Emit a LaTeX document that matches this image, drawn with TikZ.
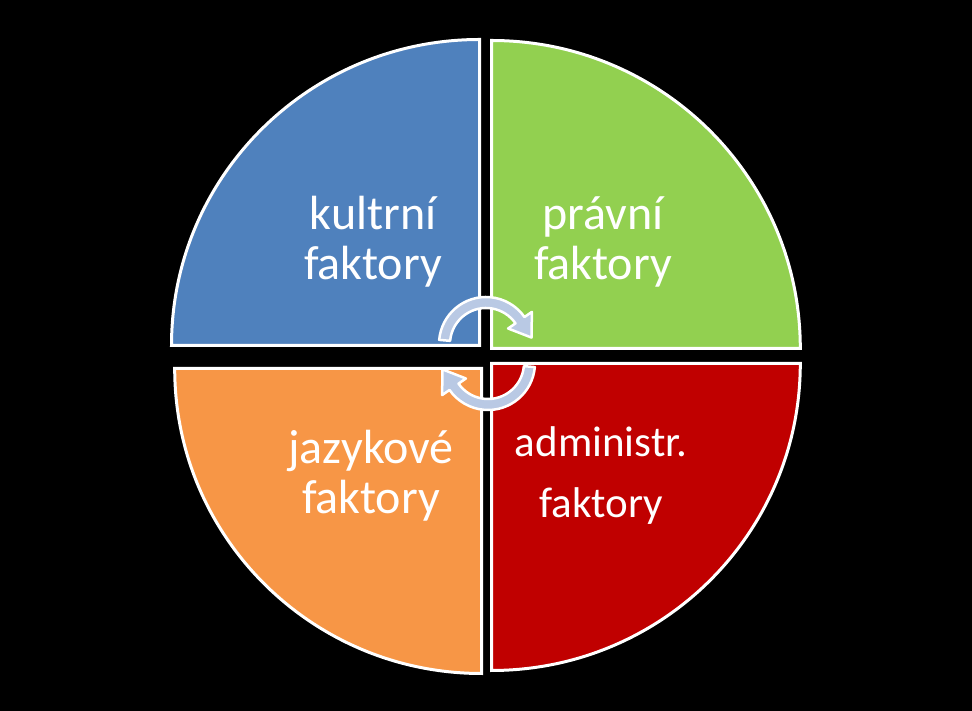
\documentclass[tikz,border=0pt]{standalone}
\usepackage{fontspec}
\setmainfont{Carlito}
\definecolor{qblue}{RGB}{79,129,189}
\definecolor{qgreen}{RGB}{146,208,80}
\definecolor{qorange}{RGB}{247,150,70}
\definecolor{qred}{RGB}{192,0,0}
\definecolor{arrowfill}{RGB}{185,201,228}
\tikzset{
  quad/.style={draw=white, line width=3pt, line join=miter},
  lbl/.style={text=white, align=center, inner sep=0pt, anchor=base, font=\fontsize{48}{50}\selectfont},
  lblsmall/.style={text=white, align=center, inner sep=0pt, anchor=base, font=\fontsize{43}{61}\selectfont},
  cyclearrow/.style={fill=arrowfill, draw=white, line width=2.5pt, line join=round}
}
\begin{document}
\begin{tikzpicture}[x=1pt,y=1pt]
\fill[black] (0,0) rectangle (972,711);
\useasboundingbox (0,0) rectangle (972,711);
% quadrants
\path[quad, fill=qblue] (479.5,365.5) -- ++(-308,0) arc[start angle=180,end angle=90,x radius=308,y radius=306] -- cycle;
\path[quad, fill=qgreen] (491.5,362.5) -- ++(0,308) arc[start angle=90,end angle=0,x radius=308.8,y radius=308] -- cycle;
\path[quad, fill=qorange] (481.5,342.5) -- ++(-306.8,0) arc[start angle=180,end angle=270,x radius=306.8,y radius=305] -- cycle;
\path[quad, fill=qred] (491.5,347.5) -- ++(308.8,0) arc[start angle=0,end angle=-90,x radius=308.8,y radius=307] -- cycle;
% labels (anchor=base is the baseline of the last line)
\node[lbl] (kult) at (373,431) {kultrní\\faktory};
\node[lbl] (prav) at (603,431) {právní\\faktory};
\node[lbl] (jaz) at (371,197) {jazykové\\faktory};
\node[lblsmall] (adm) at (601,193) {administr.\\faktory};
% cycle arrows
\begin{scope}[shift={(486,367)}]
\path[cyclearrow] (175:47) arc[start angle=175,end angle=35,radius=47]
  -- (35:56) -- (8:46) -- (35:27) -- (35:36)
  arc[start angle=35,end angle=175,radius=36] -- cycle;
\end{scope}
\begin{scope}[shift={(488,348)}, rotate=180]
\path[cyclearrow] (175:47) arc[start angle=175,end angle=35,radius=47]
  -- (35:56) -- (8:46) -- (35:27) -- (35:36)
  arc[start angle=35,end angle=175,radius=36] -- cycle;
\end{scope}
\end{tikzpicture}
\end{document}
